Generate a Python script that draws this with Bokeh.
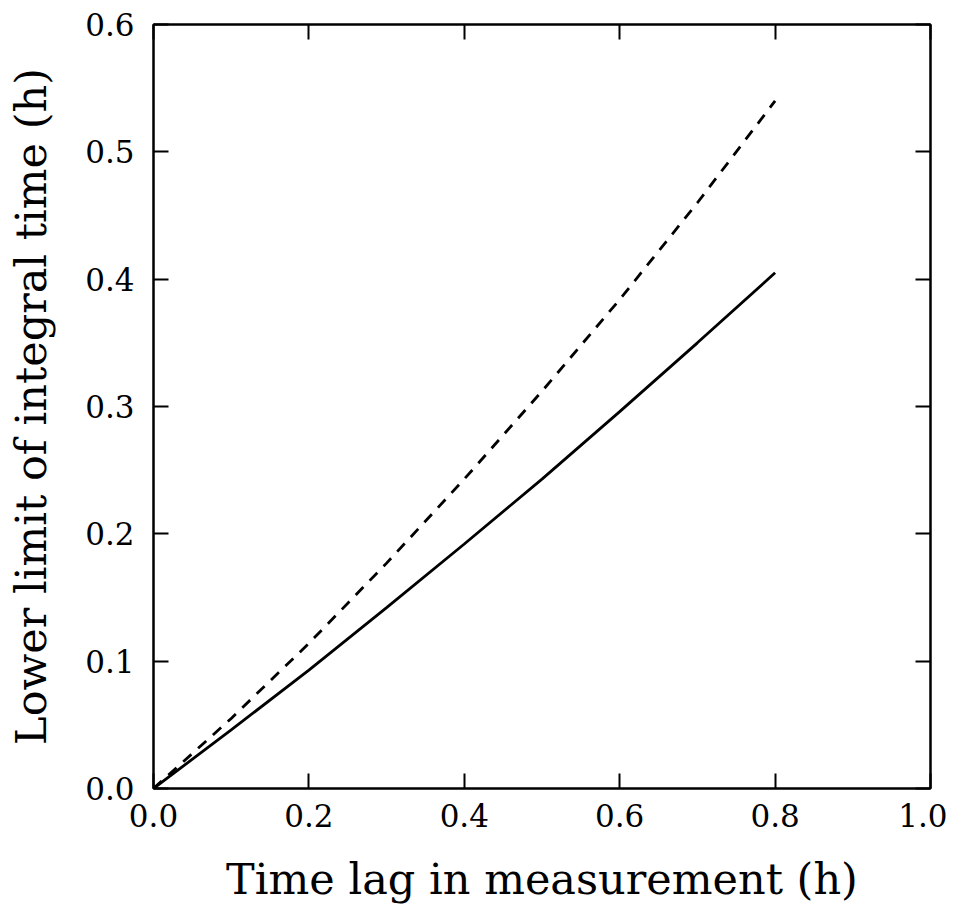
from bokeh.plotting import figure
from bokeh.models import LinearAxis, FixedTicker, Range1d, PrintfTickFormatter
from bokeh.embed import file_html
from bokeh.resources import INLINE

# Data
lag_h = [0.0, 0.1, 0.2, 0.3, 0.4, 0.5, 0.6, 0.7, 0.8]
lower_solid = [0.0, 0.046, 0.093, 0.142, 0.192, 0.243, 0.296, 0.350, 0.405]
lower_dashed = [0.0, 0.055, 0.114, 0.177, 0.243, 0.312, 0.384, 0.460, 0.540]

x_ticks = [0.0, 0.2, 0.4, 0.6, 0.8, 1.0]
y_ticks = [0.0, 0.1, 0.2, 0.3, 0.4, 0.5, 0.6]

FONT = "DejaVu Serif"

p = figure(frame_width=777, frame_height=764,
           x_range=Range1d(0, 1.0), y_range=Range1d(0, 0.6),
           output_backend="svg", toolbar_location=None,
           min_border_left=153, min_border_top=24, min_border_right=17,
           min_border_bottom=10,
           x_axis_label="Time lag in measurement (h)",
           y_axis_label="Lower limit of integral time (h)")

p.grid.visible = False
p.outline_line_color = "black"
p.outline_line_width = 2
p.background_fill_color = "white"
p.border_fill_color = "white"

for ax, ticks in ((p.xaxis[0], x_ticks), (p.yaxis[0], y_ticks)):
    ax.ticker = FixedTicker(ticks=ticks)
    ax.formatter = PrintfTickFormatter(format="%.1f")
    ax.major_tick_in = 15
    ax.major_tick_out = 0
    ax.minor_tick_line_color = None
    ax.major_tick_line_width = 2
    ax.axis_line_width = 2
    ax.major_label_text_font = FONT
    ax.major_label_text_font_size = "31px"
    ax.major_label_text_color = "black"
    ax.axis_label_text_font = FONT
    ax.axis_label_text_font_size = "43px"
    ax.axis_label_text_font_style = "normal"
    ax.axis_label_text_color = "black"

p.xaxis[0].major_label_standoff = 15
p.xaxis[0].axis_label_standoff = 24
p.yaxis[0].major_label_standoff = 19
p.yaxis[0].axis_label_standoff = 26

top = LinearAxis(ticker=FixedTicker(ticks=x_ticks),
                 major_label_overrides={t: "" for t in x_ticks})
right = LinearAxis(ticker=FixedTicker(ticks=y_ticks),
                   major_label_overrides={t: "" for t in y_ticks})
for ax in (top, right):
    ax.major_tick_in = 15
    ax.major_tick_out = 0
    ax.minor_tick_line_color = None
    ax.major_tick_line_width = 2
    ax.axis_line_width = 2
    ax.major_label_standoff = 0
p.add_layout(top, "above")
p.add_layout(right, "right")

p.line(lag_h, lower_solid, line_color="black", line_width=2.8)
p.line(lag_h, lower_dashed, line_color="black", line_width=2.8, line_dash="11 9")

open("out.html", "w").write(file_html(p, INLINE))
